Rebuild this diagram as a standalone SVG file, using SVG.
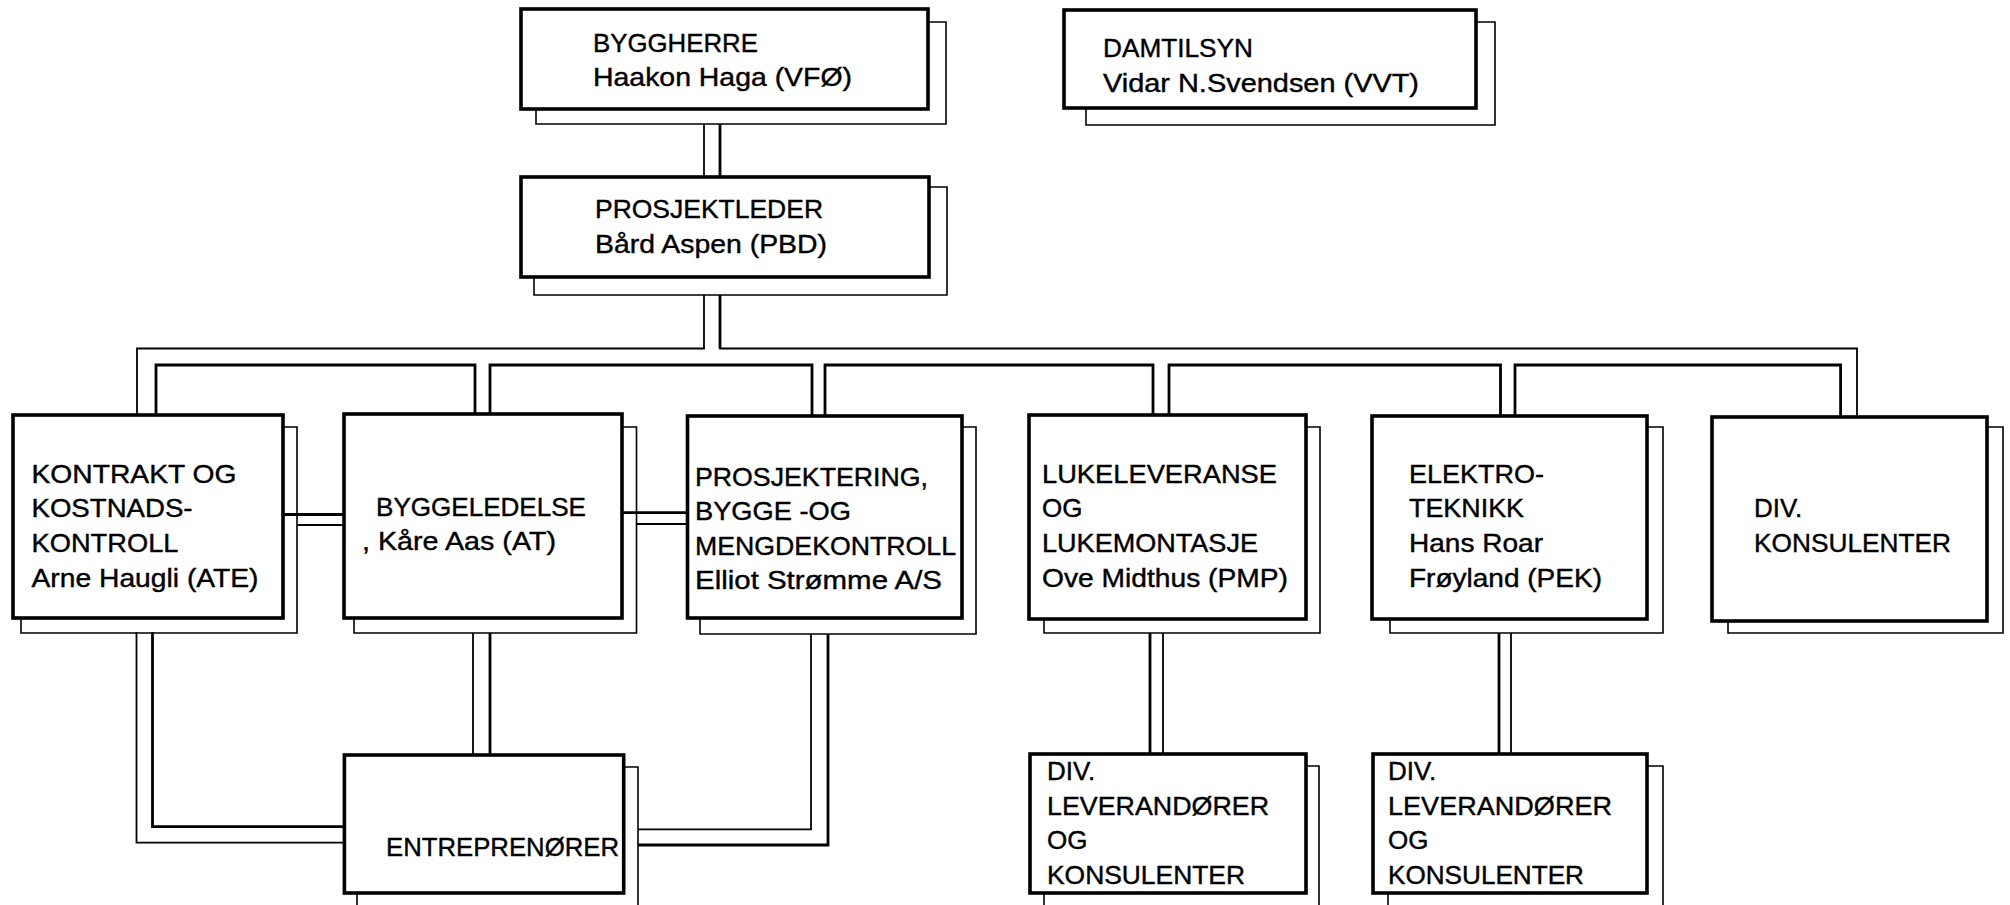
<svg xmlns="http://www.w3.org/2000/svg" width="2010" height="905" viewBox="0 0 2010 905">
<style>
.box{fill:#fff;stroke:#000;stroke-width:3.6}
.sh{fill:none;stroke:#000;stroke-width:1.6}
.cn{fill:none;stroke:#000;stroke-width:1.8}
.ck{fill:none;stroke:#000;stroke-width:2.8}
text{font-family:"Liberation Sans",Arial,Helvetica,sans-serif;font-size:26px;fill:#000;stroke:#000;stroke-width:0.4}
</style>
<rect x="0" y="0" width="2010" height="905" fill="#fff"/>
<g id="connectors">
<path class="cn" d="M704,124 V177"/>
<path class="ck" d="M720,124 V177"/>
<path class="cn" d="M704,295 V348.5 H137 V414"/>
<path class="cn" d="M720,295 V348.5 H1857 V417"/>
<path class="ck" d="M720,295 V348.5"/>
<path class="ck" d="M156,414 V365 H475 V414"/>
<path class="ck" d="M490,414 V365 H812 V416"/>
<path class="ck" d="M825,416 V365 H1153 V415"/>
<path class="ck" d="M1169,415 V365 H1500.5 V416"/>
<path class="ck" d="M1515,416 V365 H1840.6 V417"/>
<path class="ck" d="M283,514.5 H344"/>
<path class="cn" d="M297,525 H344"/>
<path class="ck" d="M622,512.7 H687.5"/>
<path class="cn" d="M636.5,524 H687.5"/>
<path class="cn" d="M136.5,632 V842.7 H344.4"/>
<path class="ck" d="M152.5,632 V826.7 H344.4"/>
<path class="cn" d="M473,633 V755"/>
<path class="ck" d="M490,633 V755"/>
<path class="cn" d="M811,634 V829.3 H638"/>
<path class="ck" d="M828,634 V845 H638"/>
<path class="ck" d="M1150,633 V754"/>
<path class="cn" d="M1163,633 V754"/>
<path class="ck" d="M1499,633 V754"/>
<path class="cn" d="M1511,633 V754"/>
</g>
<g id="byggherre">
<path class="sh" d="M928,22 H946 V124 H536 V109"/>
<rect class="box" x="521" y="9" width="407" height="100"/>
<text x="593" y="52" textLength="165" lengthAdjust="spacingAndGlyphs">BYGGHERRE</text>
<text x="593" y="86" textLength="259" lengthAdjust="spacingAndGlyphs">Haakon Haga (VFØ)</text>
</g>
<g id="damtilsyn">
<path class="sh" d="M1476,22 H1495 V125 H1086 V108"/>
<rect class="box" x="1064" y="10" width="412" height="98"/>
<text x="1103" y="57" textLength="150" lengthAdjust="spacingAndGlyphs">DAMTILSYN</text>
<text x="1103" y="92" textLength="316" lengthAdjust="spacingAndGlyphs">Vidar N.Svendsen (VVT)</text>
</g>
<g id="prosjektleder">
<path class="sh" d="M929,187 H947 V295 H534 V277"/>
<rect class="box" x="521" y="177" width="408" height="100"/>
<text x="595" y="218" textLength="228" lengthAdjust="spacingAndGlyphs">PROSJEKTLEDER</text>
<text x="595" y="253" textLength="232" lengthAdjust="spacingAndGlyphs">Bård Aspen (PBD)</text>
</g>
<g id="kontrakt">
<path class="sh" d="M283,427 H297 V633 H21 V618"/>
<rect class="box" x="13" y="415" width="270" height="203"/>
<text x="31.5" y="483" textLength="205" lengthAdjust="spacingAndGlyphs">KONTRAKT OG</text>
<text x="31.5" y="517" textLength="161" lengthAdjust="spacingAndGlyphs">KOSTNADS-</text>
<text x="31.5" y="552" textLength="147" lengthAdjust="spacingAndGlyphs">KONTROLL</text>
<text x="31.5" y="587" textLength="227" lengthAdjust="spacingAndGlyphs">Arne Haugli (ATE)</text>
</g>
<g id="byggeledelse">
<path class="sh" d="M622,427 H636.5 V633 H354 V618"/>
<rect class="box" x="344" y="414" width="278" height="204"/>
<text x="376" y="516" textLength="210" lengthAdjust="spacingAndGlyphs">BYGGELEDELSE</text>
<text x="362" y="550" textLength="194" lengthAdjust="spacingAndGlyphs">, Kåre Aas (AT)</text>
</g>
<g id="prosjektering">
<path class="sh" d="M962,427 H976 V634 H700 V618"/>
<rect class="box" x="687.5" y="416" width="274.5" height="202"/>
<text x="695" y="486" textLength="233" lengthAdjust="spacingAndGlyphs">PROSJEKTERING,</text>
<text x="695" y="520" textLength="156" lengthAdjust="spacingAndGlyphs">BYGGE -OG</text>
<text x="695" y="555" textLength="261" lengthAdjust="spacingAndGlyphs">MENGDEKONTROLL</text>
<text x="695" y="589" textLength="247" lengthAdjust="spacingAndGlyphs">Elliot Strømme A/S</text>
</g>
<g id="lukeleveranse">
<path class="sh" d="M1306,427 H1320 V633 H1044 V619"/>
<rect class="box" x="1029" y="415" width="277" height="204"/>
<text x="1042" y="483" textLength="235" lengthAdjust="spacingAndGlyphs">LUKELEVERANSE</text>
<text x="1042" y="517">OG</text>
<text x="1042" y="552" textLength="216" lengthAdjust="spacingAndGlyphs">LUKEMONTASJE</text>
<text x="1042" y="587" textLength="246" lengthAdjust="spacingAndGlyphs">Ove Midthus (PMP)</text>
</g>
<g id="elektro">
<path class="sh" d="M1647,427 H1663 V633 H1390 V619"/>
<rect class="box" x="1372" y="416" width="275" height="203"/>
<text x="1409" y="483" textLength="135" lengthAdjust="spacingAndGlyphs">ELEKTRO-</text>
<text x="1409" y="517" textLength="115" lengthAdjust="spacingAndGlyphs">TEKNIKK</text>
<text x="1409" y="552" textLength="134" lengthAdjust="spacingAndGlyphs">Hans Roar</text>
<text x="1409" y="587" textLength="193" lengthAdjust="spacingAndGlyphs">Frøyland (PEK)</text>
</g>
<g id="div-konsulenter">
<path class="sh" d="M1987,427 H2003 V633 H1728 V621"/>
<rect class="box" x="1712" y="417" width="275" height="204"/>
<text x="1754" y="517">DIV.</text>
<text x="1754" y="552" textLength="197" lengthAdjust="spacingAndGlyphs">KONSULENTER</text>
</g>
<g id="entreprenorer">
<path class="sh" d="M624,767 H638 V912 M357,893 V912"/>
<rect class="box" x="344.4" y="755" width="279.3" height="138"/>
<text x="386" y="856" textLength="233" lengthAdjust="spacingAndGlyphs">ENTREPRENØRER</text>
</g>
<g id="div-leverandorer-1">
<path class="sh" d="M1306,766 H1319 V912 M1044,893 V912"/>
<rect class="box" x="1030" y="754" width="276" height="139"/>
<text x="1047" y="780">DIV.</text>
<text x="1047" y="815" textLength="222" lengthAdjust="spacingAndGlyphs">LEVERANDØRER</text>
<text x="1047" y="849">OG</text>
<text x="1047" y="884" textLength="198" lengthAdjust="spacingAndGlyphs">KONSULENTER</text>
</g>
<g id="div-leverandorer-2">
<path class="sh" d="M1647,766 H1663 V912 M1388,893 V912"/>
<rect class="box" x="1373" y="754" width="274" height="139"/>
<text x="1388" y="780">DIV.</text>
<text x="1388" y="815" textLength="224" lengthAdjust="spacingAndGlyphs">LEVERANDØRER</text>
<text x="1388" y="849">OG</text>
<text x="1388" y="884" textLength="196" lengthAdjust="spacingAndGlyphs">KONSULENTER</text>
</g>
</svg>
